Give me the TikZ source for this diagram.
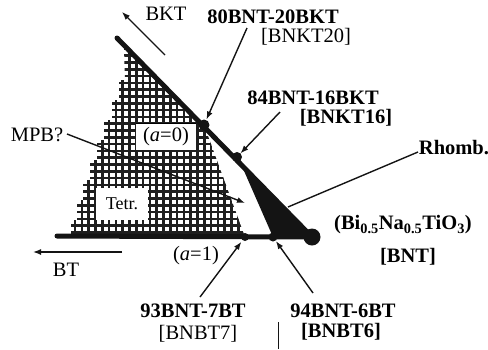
\documentclass[tikz,border=0pt]{standalone}
\usepackage{fontspec}
\setmainfont{Liberation Serif}
\usetikzlibrary{arrows.meta,calc}
\colorlet{inkblack}{black!92}
\colorlet{gridink}{black!88}
\newcommand{\phasedot}[2]{\fill[inkblack] (#1) circle (#2);}

\begin{document}
\begin{tikzpicture}[x=1pt,y=-1pt,>={Latex[length=8pt,width=6pt]},
  lab/.style={font=\fontsize{20.5}{22}\selectfont,inner sep=0pt},
  blab/.style={font=\fontsize{20.5}{22}\selectfont\bfseries,inner sep=0pt},
  pointer/.style={->,line width=1.4pt,inkblack},
  axisline/.style={line width=5pt,inkblack,line cap=round},
  gridline/.style={line width=2.7pt,gridink}]
\useasboundingbox (0,0) rectangle (488,349);
% end members and compositions on the two axes
\coordinate (bnt) at (312,237);
\coordinate (bktend) at (117,38);
\coordinate (btend) at (57,236);
\coordinate (c80) at (204,125);
\coordinate (c84) at (237,157);
\coordinate (c93) at (245,237);
\coordinate (c94) at (273,237);
% tetragonal field, drawn as a square grid
\begin{scope}
\clip (124,48) -- (c80) -- (c93) -- (71,237) -- (71,220) -- (77,220) -- (77,200) -- (83,200) -- (83,180)
  -- (90,180) -- (90,160) -- (97,160) -- (97,140) -- (104,140) -- (104,120) -- (112,120) -- (112,100)
  -- (119,100) -- (119,80) -- (125,80) -- cycle;
\foreach \gx in {61.5,68.3,...,260} \draw[gridline] (\gx,40) -- (\gx,240);
\foreach \gy in {232.5,225.7,...,40} \draw[gridline] (60,\gy) -- (260,\gy);
\end{scope}
\fill[white] (136,123) rectangle (196,150); \draw[thin] (136,123) -- (196,123);
\fill[white] (96,188) rectangle (148,220);
% rhombohedral field
\fill[inkblack] (c84) -- (bnt) -- (c94) -- (241,164) -- cycle;
% the two axes
\draw[axisline] (btend) -- (bnt);
\draw[axisline] (bktend) -- (bnt);
\phasedot{c80}{5.5} \phasedot{c84}{5} \phasedot{bnt}{8.5} \phasedot{c93}{4} \phasedot{c94}{4.5}
% field and end member labels
\node[lab] (bktlab) at (166,14) {BKT};
\node[lab] (btlab) at (66,270) {BT};
\node[lab] (mpblab) at (37,135) {MPB?};
\node[lab,font=\fontsize{18}{20}\selectfont] (tetrlab) at (122,204) {Tetr.};
\node[lab] (a0lab) at (166,137) {(\textit{a}=0)};
\node[lab] (a1lab) at (196,256) {(\textit{a}=1)};
\node[blab] (rhomblab) at (454,148) {Rhomb.};
\node[blab] (bntlab) at (403,225) {(Bi\textsubscript{0.5}Na\textsubscript{0.5}TiO\textsubscript{3})};
\node[blab] (bntshort) at (408,257) {[BNT]};
\node[blab] (n80) at (273,17) {80BNT-20BKT};
\node[lab] (n80b) at (306,37) {[BNKT20]};
\node[blab] (n84) at (313,98) {84BNT-16BKT};
\node[blab] (n84b) at (346,118) {[BNKT16]};
\node[blab] (n93) at (193,311) {93BNT-7BT};
\node[lab] (n93b) at (198,334) {[BNBT7]};
\node[blab] (n94) at (343,311) {94BNT-6BT};
\node[blab] (n94b) at (341,332) {[BNBT6]};
% arrows
\coordinate (bktfrom) at (165,55); \coordinate (bktto) at (122,12);
\coordinate (btfrom) at (122,252); \coordinate (btto) at (33,252);
\coordinate (mpbfrom) at (67,134); \coordinate (mpbto) at (245,203);
\coordinate (p80) at (247,28); \coordinate (p84) at (280,112);
\coordinate (p93) at (200,297); \coordinate (p94) at (313,293);
\coordinate (prh) at (418,152); \coordinate (rhto) at (288,207);
\draw[pointer] (bktfrom) -- (bktto);
\draw[pointer] (btfrom) -- (btto);
\draw[pointer] (mpbfrom) -- (mpbto);
\draw[pointer,shorten >=6pt] (p80) -- (c80);
\draw[pointer,shorten >=5pt] (p84) -- (c84);
\draw[pointer,shorten >=6pt] (p93) -- (c93);
\draw[pointer,shorten >=5pt] (p94) -- (c94);
\draw[line width=1.4pt,inkblack] (prh) -- (rhto);
\coordinate (tickt) at (278,322); \coordinate (tickb) at (278,349);
\draw[line width=1pt,inkblack] (tickt) -- (tickb);
\end{tikzpicture}
\end{document}
